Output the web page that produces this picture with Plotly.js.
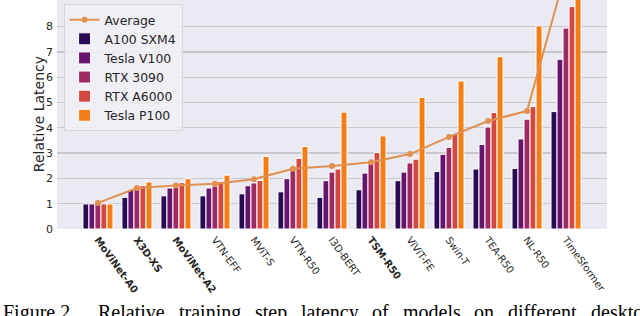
<!DOCTYPE html>
<html>
<head>
<meta charset="utf-8">
<script src="https://cdn.plot.ly/plotly-3.0.1.min.js"></script>
<style>html,body{margin:0;padding:0;background:#fff;}#chart{width:640px;height:316px;}</style>
</head>
<body>
<div id="chart"></div>
<script>
const models = ["MoViNet-A0","X3D-XS","MoViNet-A2","VTN-EFF","MViT-S","VTN-R50","I3D-BERT","TSM-R50","ViViT-FE","Swin-T","TEA-R50","NL-R50","TimeSformer"];
const boldModels = ["MoViNet-A0","X3D-XS","MoViNet-A2","TSM-R50"];
const a100  = [0.99,1.25,1.31,1.31,1.39,1.47,1.25,1.55,1.91,2.27,2.37,2.39,4.64];
const v100  = [0.99,1.55,1.62,1.62,1.71,1.99,1.91,2.21,2.25,2.95,3.34,3.56,6.71];
const rtx3090 = [0.99,1.72,1.66,1.70,1.82,2.47,2.25,2.70,2.61,3.22,4.03,4.34,7.94];
const a6000 = [0.99,1.72,1.83,1.88,1.92,2.79,2.37,3.02,2.76,3.76,4.60,4.84,8.79];
const p100  = [0.99,1.86,1.99,2.13,2.87,3.26,4.62,3.68,5.20,5.85,6.81,8.03,22.9];
const average = [1.03,1.62,1.72,1.79,1.97,2.38,2.49,2.64,2.96,3.64,4.27,4.66,10.2];
const seriesNames = ["A100 SXM4","Tesla V100","RTX 3090","RTX A6000","Tesla P100"];
const seriesColors = ["#280b54","#65156e","#9f2a63","#d44842","#f57d15"];
const yTitle = "Relative Latency";
const caption = ["Figure 2.","Relative","training","step","latency","of","models","on","different","desktop"];

const idx = models.map((m,i)=>i);
const tickText = models.map(m => boldModels.includes(m) ? "<b>"+m+"</b>" : m);
const seriesVals = [a100, v100, rtx3090, a6000, p100];

const traces = [{
  type:"scatter", mode:"lines+markers", name:"Average", x: idx, y: average,
  line:{color:"#e0914f", width:2}, marker:{color:"#e0914f", size:6}
}];
seriesVals.forEach((vals,k)=>{
  traces.push({type:"bar", name: seriesNames[k], x: idx, y: vals,
    marker:{color: seriesColors[k], line:{color:"#ffffff", width:1}}});
});

const capPx = [1, 96.7, 177.1, 253, 298.9, 370.4, 400.8, 472.3, 506, 588.6];
const plotL = 57.3, plotW = 549.4;
const annotations = caption.map((w,i)=>({
  text: w, xref:"paper", yref:"paper", x:(capPx[i]-plotL)/plotW, y:-0.305,
  xanchor:"left", yanchor:"top", showarrow:false,
  font:{family:"Liberation Serif, Times New Roman, serif", size:20, color:"#000"}
}));
annotations.push({
  text: yTitle, xref:"paper", yref:"paper", x:(39-plotL)/plotW, y:0.5,
  xanchor:"center", yanchor:"middle", textangle:-90, showarrow:false,
  font:{family:"DejaVu Sans, sans-serif", size:14, color:"#262626"}
});

const layout = {
  width:640, height:316,
  margin:{l:57.3, r:33.3, t:0, b:86.7},
  paper_bgcolor:"#ffffff", plot_bgcolor:"#eaeaf2",
  font:{family:"DejaVu Sans, sans-serif", color:"#262626"},
  barmode:"group", bargap:0.23, bargroupgap:0,
  showlegend:true,
  legend:{x:0.012, y:0.982, xanchor:"left", yanchor:"top",
    bgcolor:"rgba(240,240,246,0.85)", bordercolor:"#d6d6de", borderwidth:1,
    font:{size:12.4, color:"#262626"}, traceorder:"normal"},
  xaxis:{range:[-1.05,13.05], tickmode:"array", tickvals: idx, ticktext: tickText,
    tickangle:54, tickfont:{size:10, color:"#262626"}, showgrid:false, zeroline:false,
    showline:false, ticks:"", ticklabelstandoff:2},
  yaxis:{range:[0,9.05], tickvals:[0,1,2,3,4,5,6,7,8], tickfont:{size:11, color:"#262626"},
    showgrid:true, gridcolor:"#c6c6cb", gridwidth:1.3, zeroline:false, ticks:"",
    ticklabelstandoff:3},
  annotations: annotations
};
Plotly.newPlot("chart", traces, layout, {displayModeBar:false, staticPlot:true});
</script>
</body>
</html>
